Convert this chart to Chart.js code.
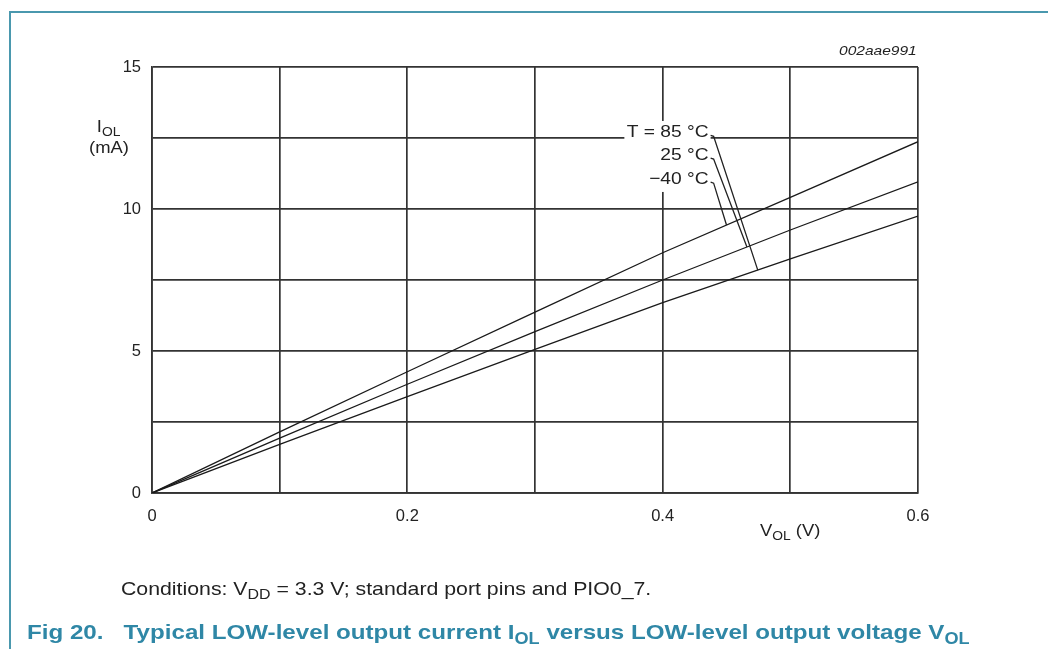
<!DOCTYPE html>
<html>
<head>
<meta charset="utf-8">
<script src="https://cdn.jsdelivr.net/npm/chart.js@4/dist/chart.umd.min.js"></script>
<style>
  html, body { margin: 0; padding: 0; background: #fff; }
  body { width: 1048px; height: 649px; position: relative; overflow: hidden; font-family: "Liberation Sans", Arial, sans-serif; }
  #frame { position: absolute; left: 9px; top: 11px; right: -10px; bottom: -10px; border-left: 2.5px solid #4a98ae; border-top: 2.5px solid #4a98ae; }
  #chart { position: absolute; left: 0; top: 0; }
  .t { position: absolute; color: #222; white-space: nowrap; transform: scaleX(1.15); transform-origin: left center; }
  .t sub { font-size: 75%; vertical-align: -0.3em; line-height: 0; }
  #ytitle { left: 89px; top: 116px; width: 34px; text-align: center; font-size: 16px; line-height: 21px; }
  #xtitle { left: 760px; top: 522px; font-size: 16px; }
  #code { left: 839px; top: 43px; font-size: 13.5px; font-style: italic; }
  #cond { left: 121px; top: 578px; font-size: 18.5px; }
  #fig { left: 27px; top: 620px; font-size: 21px; font-weight: bold; color: #2f87a6; }
</style>
</head>
<body>
<div id="frame"></div>
<canvas id="chart" width="1048" height="649"></canvas>
<div class="t" id="ytitle">I<sub>OL</sub><br>(mA)</div>
<div class="t" id="xtitle">V<sub>OL</sub> (V)</div>
<div class="t" id="code">002aae991</div>
<div class="t" id="cond">Conditions: V<sub>DD</sub> = 3.3 V; standard port pins and PIO0_7.</div>
<div class="t" id="fig">Fig 20.&nbsp;&nbsp; Typical LOW-level output current I<sub>OL</sub> versus LOW-level output voltage V<sub>OL</sub></div>
<script>
// V_OL (V)
const vol = [0, 0.1, 0.2, 0.3, 0.4, 0.5, 0.6];
// I_OL (mA) per temperature
const iolMinus40 = [0, 2.15, 4.27, 6.37, 8.46, 10.41, 12.37];
const iol25      = [0, 1.93, 3.83, 5.68, 7.50, 9.26, 10.96];
const iol85      = [0, 1.71, 3.39, 5.06, 6.70, 8.24, 9.75];
const tempLabels = ['\u221240 \u00b0C', '25 \u00b0C', 'T = 85 \u00b0C'];
const xTickLabels = [0, 0.2, 0.4, 0.6];
const yTickLabels = [0, 5, 10, 15];

const toPts = ys => vol.map((v, i) => ({ x: v, y: ys[i] }));

// curve value at v, read along the plotted polyline
function onCurve(ys, v) {
    for (let i = 1; i < vol.length; i++) {
        if (v <= vol[i]) {
            const f = (v - vol[i - 1]) / (vol[i] - vol[i - 1]);
            return ys[i - 1] + f * (ys[i] - ys[i - 1]);
        }
    }
    return ys[ys.length - 1];
}

// temperature labels with leader lines
const labelPlugin = {
    id: 'tempLabels',
    afterDatasetsDraw(chart) {
        const { ctx, scales: { x, y } } = chart;
        const series = [iolMinus40, iol25, iol85];
        const textAt = [[0.436, 11.05], [0.436, 11.9], [0.436, 12.7]];
        const leadTo = [0.450, 0.466, 0.4745];
        const sx = 1.13;
        ctx.save();
        ctx.font = '17px "Liberation Sans", Arial, sans-serif';
        ctx.textAlign = 'right';
        ctx.textBaseline = 'middle';
        // one white box behind the label block
        const bx = x.getPixelForValue(0.370);
        const bTop = y.getPixelForValue(13.1);
        const bBot = y.getPixelForValue(10.6);
        ctx.fillStyle = '#fff';
        ctx.fillRect(bx, bTop, x.getPixelForValue(textAt[0][0]) + 2 - bx, bBot - bTop);
        series.forEach((ys, k) => {
            const tx = x.getPixelForValue(textAt[k][0]);
            const ty = y.getPixelForValue(textAt[k][1]);
            ctx.save();
            ctx.translate(tx, ty);
            ctx.scale(sx, 1);
            ctx.fillStyle = '#222';
            ctx.fillText(tempLabels[k], 0, 0);
            ctx.restore();
            const ex = x.getPixelForValue(leadTo[k]);
            const ey = y.getPixelForValue(onCurve(ys, leadTo[k]));
            ctx.strokeStyle = '#222';
            ctx.lineWidth = 1.3;
            ctx.beginPath();
            ctx.moveTo(tx + 2, ty + 3);
            ctx.lineTo(tx + 5, ty + 4);
            ctx.lineTo(ex, ey);
            ctx.stroke();
        });
        ctx.restore();
    }
};

const lineDs = (label, ys) => ({
    label, data: toPts(ys), borderColor: '#1a1a1a', borderWidth: 1.3,
    pointRadius: 0, fill: false, tension: 0
});

new Chart(document.getElementById('chart'), {
    type: 'line',
    data: {
        datasets: [
            lineDs(tempLabels[0], iolMinus40),
            lineDs(tempLabels[1], iol25),
            lineDs(tempLabels[2], iol85)
        ]
    },
    options: {
        responsive: false,
        animation: false,
        events: [],
        layout: { padding: { left: 0, right: 130, top: 67, bottom: 116 } },
        plugins: { legend: { display: false }, tooltip: { enabled: false } },
        scales: {
            x: {
                type: 'linear', min: 0, max: 0.6,
                afterFit: s => { s.height = 40; },
                border: { color: '#333', width: 1.7 },
                grid: { color: '#333', lineWidth: 1.7, drawTicks: false },
                ticks: {
                    stepSize: 0.1, padding: 14, color: '#222', maxRotation: 0,
                    font: { family: '"Liberation Sans", Arial, sans-serif', size: 16.5 },
                    callback: v => {
                        const hit = xTickLabels.find(t => Math.abs(t - v) < 1e-6);
                        return hit === undefined ? '' : String(hit);
                    }
                }
            },
            y: {
                min: 0, max: 15,
                afterFit: s => { s.width = 152; },
                border: { color: '#333', width: 1.7 },
                grid: { color: '#333', lineWidth: 1.7, drawTicks: false },
                ticks: {
                    stepSize: 2.5, padding: 11, color: '#222',
                    font: { family: '"Liberation Sans", Arial, sans-serif', size: 16.5 },
                    callback: v => yTickLabels.includes(v) ? String(v) : ''
                }
            }
        }
    },
    plugins: [labelPlugin]
});
</script>
</body>
</html>
